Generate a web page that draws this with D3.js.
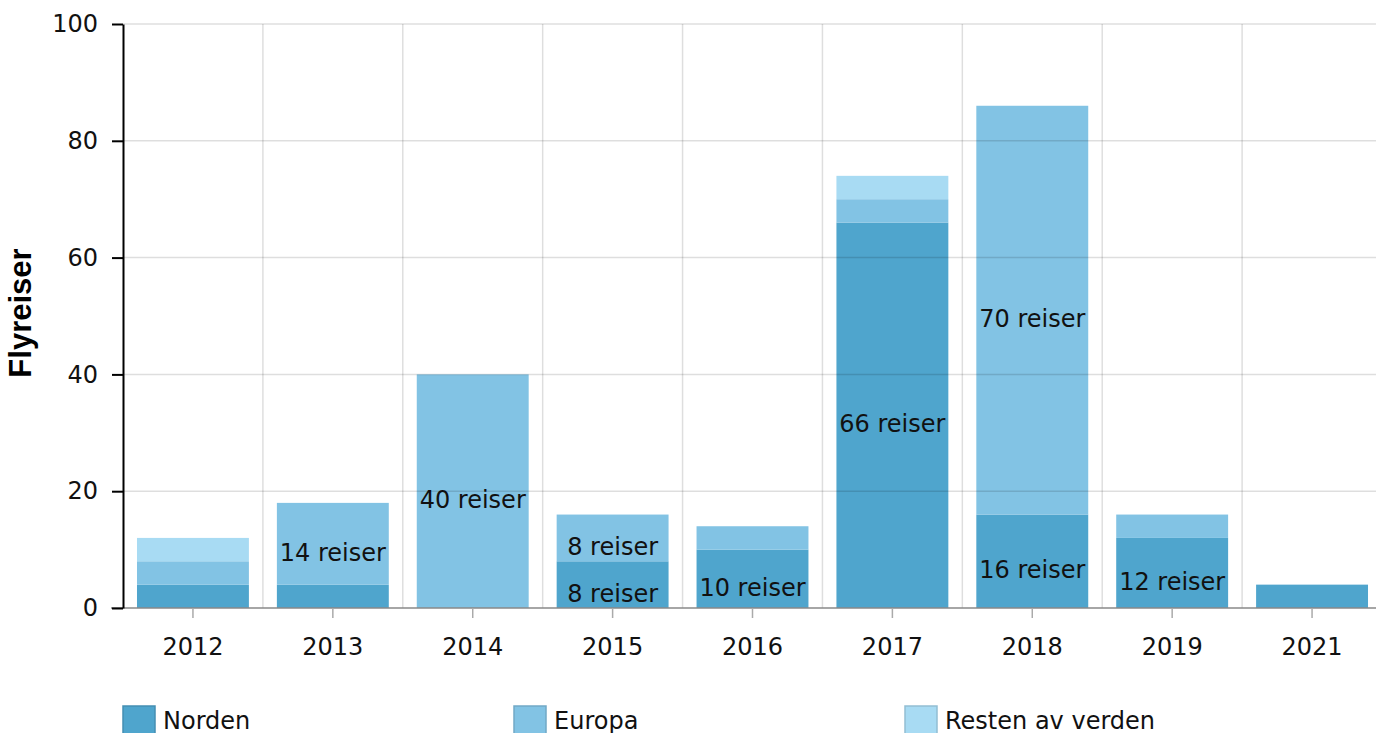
<!DOCTYPE html>
<html>
<head>
<meta charset="utf-8">
<script src="https://cdn.jsdelivr.net/npm/d3@7"></script>
<style>
  body { margin: 0; background: #fff; }
  svg { display: block; font-family: "DejaVu Sans", Verdana, sans-serif; }
  .tick text { font-family: "DejaVu Sans", Verdana, sans-serif; font-size: 24px; fill: #111; }
  .seglabel { font-size: 24px; fill: #111; text-anchor: middle; }
  .legend text { font-size: 24px; fill: #111; }
</style>
</head>
<body>
<svg width="1376" height="733"></svg>
<script>
const years = ["2012", "2013", "2014", "2015", "2016", "2017", "2018", "2019", "2021"];
const series = ["Norden", "Europa", "Resten av verden"];
const norden = [4, 4, 0, 8, 10, 66, 16, 12, 4];
const europa = [4, 14, 40, 8, 4, 4, 70, 4, 0];
const resten = [4, 0, 0, 0, 0, 4, 0, 0, 0];
const yTicks = [0, 20, 40, 60, 80, 100];
const colours = ["#4fa5cd", "#82c3e4", "#a8dbf3"];

const svg = d3.select("svg");

const table = years.map(function(y, i) {
  return {year: y, Norden: norden[i], Europa: europa[i], "Resten av verden": resten[i]};
});
const stacked = d3.stack().keys(series)(table);

const xScale = d3.scaleBand().domain(years).range([123, 1382]).paddingInner(0.2).paddingOuter(0.1),
    yScale = d3.scaleLinear().domain([0, 100]).range([608, 24]),
    zScale = d3.scaleOrdinal(series, colours);

// Bars
const layer = svg.append("g").selectAll("g")
  .data(stacked)
  .enter().append("g")
    .attr("fill", function(d) { return zScale(d.key); });

layer.selectAll("rect")
  .data(function(d) { return d; })
  .enter().append("rect")
    .attr("x", function(d) { return xScale(d.data.year); })
    .attr("y", function(d) { return yScale(d[1]); })
    .attr("width", xScale.bandwidth())
    .attr("height", function(d) { return yScale(d[0]) - yScale(d[1]); });

// Grid lines, drawn over the bars
const step = xScale.step();
const grid = svg.append("g").attr("stroke", "rgba(0,0,0,0.13)").attr("stroke-width", 1.5);
grid.selectAll(".hgrid")
  .data(yTicks.slice(1))
  .enter().append("line")
    .attr("x1", 123).attr("x2", 1382)
    .attr("y1", function(d) { return yScale(d); })
    .attr("y2", function(d) { return yScale(d); });
grid.selectAll(".vgrid")
  .data(years.slice(1))
  .enter().append("line")
    .attr("x1", function(d) { return xScale(d) - step * 0.1; })
    .attr("x2", function(d) { return xScale(d) - step * 0.1; })
    .attr("y1", 24).attr("y2", 608);

// Segment labels
layer.selectAll("text")
  .data(function(d) { return d.filter(function(s) { return s[1] - s[0] >= 8; }); })
  .enter().append("text")
    .attr("class", "seglabel")
    .attr("x", function(d) { return xScale(d.data.year) + xScale.bandwidth() / 2; })
    .attr("y", function(d) { return (yScale(d[0]) + yScale(d[1])) / 2 + 17; })
    .text(function(d) { return (d[1] - d[0]) + " reiser"; });

// X axis
const xAxis = svg.append("g")
    .attr("transform", "translate(0,608)")
    .call(d3.axisBottom(xScale).tickSize(10).tickPadding(20).tickSizeOuter(0));
xAxis.select(".domain").attr("stroke", "#888").attr("stroke-width", 1.5).attr("d", "M111,0H1382");
xAxis.selectAll(".tick line").attr("stroke", "#aaa").attr("stroke-width", 1.5);

// Y axis
const yAxis = svg.append("g")
    .attr("transform", "translate(123,0)")
    .call(d3.axisLeft(yScale).tickValues(yTicks).tickSize(11).tickPadding(14).tickSizeOuter(0));
yAxis.select(".domain").attr("stroke", "#000").attr("stroke-width", 2);
yAxis.selectAll(".tick line").attr("stroke", "#000").attr("stroke-width", 2);

svg.append("text")
    .attr("transform", "translate(31,313) rotate(-90)")
    .style("text-anchor", "middle")
    .style("font-family", "'Liberation Sans', Arial, sans-serif")
    .style("font-weight", "bold")
    .style("font-size", "31px")
    .text("Flyreiser");

// Legend
const legend = svg.append("g").attr("class", "legend")
  .selectAll("g")
  .data(series)
  .enter().append("g")
    .attr("transform", function(d, i) { return "translate(" + (123 + i * 391) + ",706)"; });
legend.append("rect")
    .attr("width", 32).attr("height", 34)
    .attr("fill", function(d) { return zScale(d); })
    .attr("stroke", function(d) { return d3.color(zScale(d)).darker(0.4); })
    .attr("stroke-width", 1.5);
legend.append("text")
    .attr("x", 40).attr("y", 23)
    .text(function(d) { return d; });
</script>
</body>
</html>
